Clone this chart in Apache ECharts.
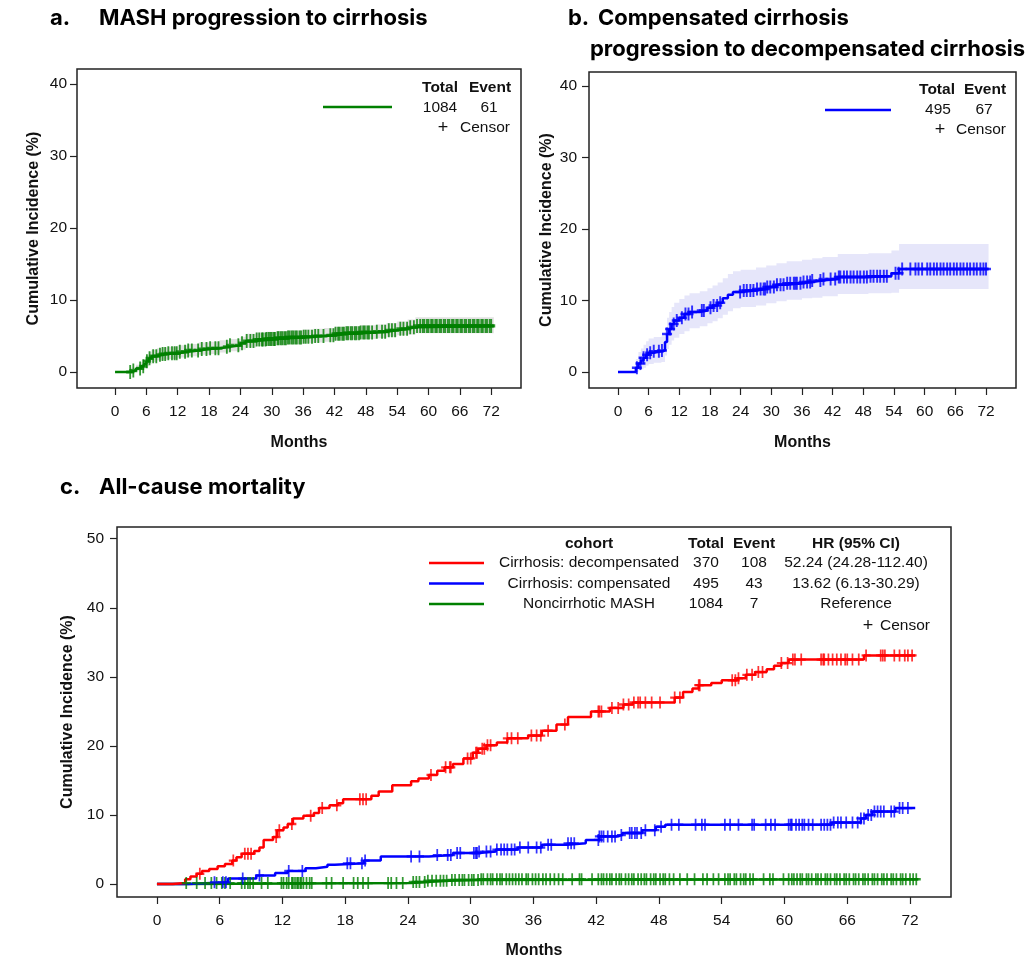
<!DOCTYPE html>
<html>
<head>
<meta charset="utf-8">
<script src="https://cdn.jsdelivr.net/npm/echarts@6/dist/echarts.min.js"></script>
<style>
  html, body { margin: 0; padding: 0; background: #fff; }
  #main { width: 1030px; height: 960px; }
</style>
</head>
<body>
<div id="main"></div>
<script>
// tick labels
var xTicks = [0, 6, 12, 18, 24, 30, 36, 42, 48, 54, 60, 66, 72];
var yTicksAB = [0, 10, 20, 30, 40];
var yTicksC = [0, 10, 20, 30, 40, 50];

// a. MASH -> cirrhosis (step times, cumulative incidence %, CI band)
var aTimes = [0, 3, 4, 5, 5.5, 6, 6.5, 7, 8, 9, 10, 12, 14, 16, 18, 20, 22, 24, 25, 27, 29, 31, 33, 36, 38, 40, 42, 44, 47, 50, 52, 54, 56, 57.5, 72.5];
var aValues = [0, 0.2, 0.5, 0.8, 1.1, 1.5, 1.9, 2.2, 2.4, 2.5, 2.6, 2.8, 3.0, 3.2, 3.3, 3.5, 3.7, 4.0, 4.3, 4.5, 4.6, 4.7, 4.8, 4.9, 5.0, 5.1, 5.3, 5.4, 5.5, 5.6, 5.8, 6.0, 6.2, 6.4, 6.4];
var aLower = [0, 0, 0.1, 0.3, 0.5, 0.8, 1.1, 1.4, 1.6, 1.7, 1.8, 2.0, 2.2, 2.4, 2.5, 2.7, 2.9, 3.1, 3.4, 3.6, 3.7, 3.8, 3.9, 4.0, 4.1, 4.2, 4.4, 4.5, 4.6, 4.7, 4.9, 5.1, 5.2, 5.4, 5.4];
var aUpper = [0, 0.6, 1.0, 1.4, 1.8, 2.3, 2.8, 3.1, 3.3, 3.4, 3.5, 3.7, 3.9, 4.1, 4.2, 4.4, 4.6, 4.9, 5.3, 5.5, 5.6, 5.7, 5.8, 5.9, 6.0, 6.1, 6.3, 6.4, 6.5, 6.6, 6.8, 7.0, 7.3, 7.6, 7.6];
var aCensor = [2.9, 3.5, 4.8, 5.4, 6.1, 6.6, 7.3, 7.9, 8.6, 9.1, 9.6, 10.2, 10.9, 11.4, 11.8, 12.4, 13.4, 14.0, 14.7, 15.9, 16.6, 17.5, 18.2, 19.2, 19.8, 21.4, 22.0, 23.6, 24.3, 25.2, 25.9, 26.5, 27.1, 27.6, 28.1, 28.3, 28.8, 29.0, 29.4, 29.7, 30.0, 30.4, 30.6, 31.1, 31.3, 31.7, 32.0, 32.4, 32.7, 33.1, 33.4, 33.8, 34.1, 34.5, 34.8, 35.3, 35.6, 36.1, 36.5, 37.0, 37.7, 38.3, 38.9, 39.9, 41.2, 41.8, 42.2, 42.7, 43.0, 43.5, 43.8, 44.3, 44.6, 45.1, 45.4, 45.9, 46.2, 46.7, 47.0, 47.5, 47.8, 48.3, 48.6, 49.2, 50.1, 51.1, 51.7, 52.4, 53.0, 53.6, 54.6, 55.2, 55.9, 56.5, 57.2, 57.8, 58.4, 58.9, 59.2, 59.7, 60.0, 60.5, 60.8, 61.3, 61.6, 62.1, 62.4, 62.9, 63.2, 63.7, 64.0, 64.5, 64.8, 65.3, 65.6, 66.1, 66.4, 66.9, 67.2, 67.7, 68.0, 68.5, 68.8, 69.3, 69.6, 70.1, 70.4, 70.9, 71.2, 71.7, 72.0];
var aTotal = '1084', aEvent = '61';

// b. compensated -> decompensated cirrhosis
var bTimes = [0, 3.5, 4, 4.5, 5, 5.5, 6, 7, 8.5, 9.2, 9.6, 10, 10.5, 11, 12, 13, 14, 16, 17.5, 18.5, 19.5, 20.5, 21.5, 22.5, 24, 27, 29, 31, 33, 36, 38, 40, 43, 49, 53.5, 55, 72.5];
var bValues = [0, 0.6, 1.2, 1.6, 2.0, 2.4, 2.7, 2.9, 3.0, 4.2, 5.3, 6.0, 6.7, 7.2, 7.6, 8.1, 8.4, 8.6, 9.0, 9.3, 9.7, 10.3, 10.8, 11.2, 11.4, 11.6, 11.9, 12.2, 12.4, 12.6, 12.8, 13.0, 13.3, 13.4, 13.8, 14.4, 14.4];
var bLower = [0, 0, 0.2, 0.4, 0.6, 0.9, 1.1, 1.3, 1.4, 2.3, 3.2, 3.8, 4.4, 4.8, 5.3, 5.7, 6.1, 6.4, 6.8, 7.1, 7.5, 8.0, 8.5, 8.9, 9.1, 9.3, 9.6, 9.9, 10.1, 10.3, 10.4, 10.6, 10.9, 11.0, 11.1, 11.6, 11.6];
var bUpper = [0, 1.8, 2.8, 3.3, 3.8, 4.3, 4.7, 4.9, 5.0, 6.3, 7.6, 8.4, 9.1, 9.7, 10.2, 10.7, 11.0, 11.3, 11.7, 12.1, 12.5, 13.1, 13.7, 14.1, 14.3, 14.6, 14.9, 15.2, 15.5, 15.7, 15.9, 16.1, 16.5, 16.6, 17.0, 17.9, 17.9];
var bCensor = [3.7, 4.4, 5.0, 5.7, 6.3, 7.0, 8.0, 8.6, 9.6, 10.2, 10.9, 11.5, 12.5, 13.2, 13.8, 14.5, 16.4, 16.8, 18.1, 18.7, 19.4, 20.0, 23.9, 24.6, 25.2, 25.9, 26.5, 27.2, 27.9, 28.5, 28.8, 29.2, 29.8, 30.5, 31.1, 31.8, 32.4, 33.1, 33.7, 34.4, 34.7, 35.0, 35.7, 36.3, 37.0, 37.6, 38.0, 39.6, 40.2, 41.6, 42.5, 43.2, 43.5, 44.2, 44.8, 45.5, 46.1, 46.8, 47.4, 48.1, 48.7, 49.4, 50.0, 50.7, 51.3, 52.0, 52.6, 54.3, 54.9, 55.6, 57.2, 58.2, 58.8, 59.5, 60.5, 61.1, 61.8, 62.4, 63.1, 63.7, 64.4, 65.0, 65.7, 66.3, 67.0, 67.6, 68.3, 68.9, 69.6, 70.2, 70.9, 71.5, 72.0];
var bTotal = '495', bEvent = '67';

// c. all-cause mortality by cohort
var cohorts = ['Cirrhosis: decompensated', 'Cirrhosis: compensated', 'Noncirrhotic MASH'];
var cTotals = ['370', '495', '1084'];
var cEvents = ['108', '43', '7'];
var cHR = ['52.24 (24.28-112.40)', '13.62 (6.13-30.29)', 'Reference'];

var redTimes = [0, 1.5, 2.7, 3.2, 3.8, 4.3, 5, 5.8, 6.5, 7.2, 7.6, 8.1, 9.3, 9.8, 10.2, 11.1, 11.5, 12.1, 12.5, 13.0, 14.0, 15.0, 15.5, 16.5, 17.3, 17.8, 20.5, 21.2, 22.5, 24.3, 25.0, 26.0, 26.8, 27.5, 28.3, 29.3, 30.2, 30.7, 31.5, 32.5, 33.5, 35.5, 36.8, 38.2, 39.3, 41.5, 43.3, 44.6, 45.5, 49.5, 50.3, 51.2, 51.8, 53.0, 54.0, 55.5, 56.3, 57.2, 58.3, 59.0, 59.7, 60.4, 67.6, 72.5];
var redValues = [0, 0.15, 0.7, 1.1, 1.5, 1.9, 2.2, 2.6, 2.9, 3.4, 3.9, 4.4, 4.8, 5.3, 6.4, 6.8, 7.8, 8.2, 8.7, 9.5, 9.9, 10.3, 11.0, 11.4, 11.7, 12.3, 12.8, 13.4, 14.3, 14.9, 15.3, 15.8, 16.4, 16.9, 17.4, 18.2, 19.0, 19.6, 20.1, 20.5, 21.1, 21.5, 22.2, 23.1, 24.2, 25.0, 25.5, 26.0, 26.3, 27.0, 27.8, 28.3, 28.8, 29.1, 29.5, 29.8, 30.3, 30.7, 31.1, 31.6, 32.0, 32.5, 33.1, 33.1];
var redCensor = [4.1, 7.3, 8.4, 8.7, 9.0, 11.4, 11.7, 12.9, 14.7, 15.8, 17.2, 19.4, 19.7, 20.0, 26.2, 27.6, 28.0, 28.1, 29.7, 30.0, 30.5, 30.6, 31.1, 31.3, 31.6, 31.9, 33.5, 33.9, 34.5, 35.8, 36.3, 36.7, 37.4, 39.0, 42.2, 42.3, 42.5, 43.5, 44.1, 44.6, 45.1, 45.6, 46.0, 46.2, 46.7, 47.3, 48.1, 49.5, 50.0, 51.8, 51.9, 55.0, 55.3, 55.6, 56.4, 56.9, 57.5, 57.9, 59.7, 60.3, 60.8, 61.0, 61.6, 63.5, 63.7, 63.8, 64.2, 64.6, 65.0, 65.4, 65.8, 66.0, 66.5, 67.1, 67.8, 69.2, 69.4, 69.6, 70.5, 71.0, 71.5, 71.8, 72.2];

var blueTimes = [0, 3.0, 6.8, 9.5, 11.3, 12.5, 14.2, 15.2, 16.3, 17.0, 19.8, 21.4, 26.0, 28.3, 30.8, 32.4, 34.5, 36.8, 39.2, 41.0, 42.3, 43.9, 44.5, 46.4, 47.7, 48.6, 64.5, 67.3, 67.8, 68.4, 70.6, 72.5];
var blueValues = [0, 0.25, 0.8, 1.25, 1.6, 1.9, 2.3, 2.5, 2.8, 3.0, 3.4, 4.0, 4.2, 4.5, 4.7, 5.0, 5.3, 5.7, 5.9, 6.4, 6.9, 7.1, 7.4, 7.8, 8.3, 8.6, 8.9, 9.5, 10.0, 10.5, 11.0, 11.0];
var blueCensor = [5.5, 6.3, 6.6, 8.2, 9.8, 12.6, 13.9, 18.2, 18.5, 19.6, 19.9, 24.3, 25.1, 26.8, 27.8, 28.1, 28.7, 29.0, 30.3, 30.5, 30.6, 30.8, 31.5, 31.9, 32.5, 32.9, 33.2, 33.5, 33.9, 34.2, 34.7, 35.5, 36.3, 36.7, 37.4, 37.7, 39.3, 39.6, 39.9, 42.2, 42.3, 42.5, 42.7, 43.1, 43.5, 43.8, 44.4, 45.2, 45.4, 45.7, 45.9, 46.3, 46.7, 47.6, 48.2, 49.2, 49.9, 51.5, 52.1, 52.4, 54.3, 54.8, 55.6, 56.9, 57.1, 58.2, 58.7, 59.1, 60.4, 60.6, 60.7, 61.1, 61.4, 61.7, 61.9, 62.3, 62.7, 63.5, 63.8, 64.1, 64.4, 64.7, 65.1, 65.4, 65.9, 66.5, 67.0, 67.3, 67.6, 68.0, 68.3, 68.6, 68.9, 69.2, 69.5, 70.2, 70.5, 71.0, 71.3, 71.8];

var greenTimes = [0, 2.5, 24.3, 25.8, 28.0, 31.0, 72.8];
var greenValues = [0, 0.15, 0.3, 0.5, 0.6, 0.7, 0.7];
var greenCensor = [2.8, 3.8, 4.6, 5.2, 5.7, 6.2, 6.5, 7.0, 8.1, 8.4, 8.7, 8.9, 9.2, 10.0, 10.6, 11.9, 12.1, 12.4, 12.6, 12.9, 13.0, 13.2, 13.4, 13.5, 13.7, 13.8, 14.0, 14.3, 14.6, 14.8, 16.2, 16.7, 17.8, 18.8, 19.2, 19.7, 20.2, 22.1, 22.4, 22.9, 23.5, 24.5, 24.8, 25.1, 25.6, 25.9, 26.3, 26.7, 27.1, 27.4, 27.7, 28.2, 28.5, 28.9, 29.2, 29.4, 29.8, 30.1, 30.3, 30.7, 31.0, 31.2, 31.6, 31.9, 32.1, 32.5, 32.8, 33.0, 33.4, 33.7, 34.0, 34.3, 34.6, 34.9, 35.3, 35.5, 35.9, 36.2, 36.5, 36.9, 37.2, 37.6, 38.0, 38.4, 38.8, 39.7, 40.4, 40.6, 41.6, 42.2, 42.5, 42.7, 43.0, 43.3, 43.5, 43.9, 44.2, 44.4, 44.8, 45.1, 45.4, 45.6, 46.0, 46.3, 46.6, 46.8, 47.2, 47.5, 47.7, 48.1, 48.4, 48.6, 49.0, 49.4, 50.0, 50.7, 51.4, 52.2, 52.6, 53.2, 53.7, 54.3, 54.6, 54.8, 55.2, 55.4, 55.8, 56.1, 56.3, 56.7, 57.0, 58.0, 58.6, 58.9, 59.9, 60.4, 60.7, 60.9, 61.2, 61.5, 61.7, 62.1, 62.3, 62.6, 63.0, 63.2, 63.5, 63.9, 64.1, 64.4, 64.8, 65.0, 65.3, 65.7, 65.9, 66.2, 66.6, 66.8, 67.1, 67.5, 67.7, 68.0, 68.4, 68.6, 68.9, 69.3, 69.5, 69.8, 70.2, 70.4, 70.7, 71.1, 71.3, 71.6, 72.0, 72.3, 72.6];

var RED = '#ff0000', BLUE = '#0000ff', GREEN = '#008000';
var axisFont = '"Liberation Sans", Arial, sans-serif';
var titleFont = 'Inter, "Noto Sans", sans-serif';
var plusPath = 'path://M5,0L5,10M0,5L10,5';

var myChart = echarts.init(document.getElementById('main'), null, {renderer: 'canvas'});

// value of a step curve at time t
function stepAt(times, vals, t) {
    var v = vals[0];
    for (var i = 0; i < times.length; i++) {
        if (times[i] <= t) v = vals[i];
    }
    return v;
}

function pairs(times, vals) {
    return times.map(function (t, i) { return [t, vals[i]]; });
}

function curveSeries(gi, times, vals, color) {
    return {
        type: 'line', xAxisIndex: gi, yAxisIndex: gi, step: 'end',
        data: pairs(times, vals), symbol: 'none', silent: true, z: 3,
        lineStyle: {color: color, width: 2.5}
    };
}

function censorSeries(gi, times, vals, censor, color, size, lw) {
    return {
        type: 'scatter', xAxisIndex: gi, yAxisIndex: gi, silent: true, z: 4,
        symbol: plusPath, symbolSize: size,
        data: censor.map(function (t) { return [t, stepAt(times, vals, t)]; }),
        itemStyle: {color: color, borderColor: color, borderWidth: lw || 2}
    };
}

// confidence band as a stepped polygon, placed through the axes
function bandSeries(gi, times, lower, upper, color) {
    return {
        type: 'custom', xAxisIndex: gi, yAxisIndex: gi, silent: true, z: 1,
        data: [0],
        renderItem: function (params, api) {
            var top = [], bot = [];
            for (var i = 0; i < times.length - 1; i++) {
                top.push(api.coord([times[i], upper[i]]), api.coord([times[i + 1], upper[i]]));
                bot.push(api.coord([times[i], lower[i]]), api.coord([times[i + 1], lower[i]]));
            }
            return {type: 'polygon', shape: {points: top.concat(bot.reverse())}, style: {fill: color}};
        }
    };
}

function xAxisCfg(gi, min, max, gap) {
    return {
        type: 'value', gridIndex: gi, min: min, max: max,
        splitLine: {show: false},
        axisLine: {show: false, onZero: false},
        axisTick: {show: true, length: 7, customValues: xTicks, lineStyle: {color: '#222', width: 1.2}},
        axisLabel: {customValues: xTicks, fontSize: 15.5, color: '#111', fontFamily: axisFont, margin: 16},
        name: 'Months', nameLocation: 'middle', nameGap: gap,
        nameTextStyle: {fontSize: 16, fontWeight: 'bold', color: '#111', fontFamily: axisFont}
    };
}

function yAxisCfg(gi, min, max, ticks, gap, margin) {
    return {
        type: 'value', gridIndex: gi, min: min, max: max,
        splitLine: {show: false},
        axisLine: {show: false, onZero: false},
        axisTick: {show: true, length: 7, customValues: ticks, lineStyle: {color: '#222', width: 1.2}},
        axisLabel: {customValues: ticks, fontSize: 15.5, color: '#111', fontFamily: axisFont, margin: margin},
        name: 'Cumulative Incidence (%)', nameLocation: 'middle', nameGap: gap, nameRotate: 90,
        nameTextStyle: {fontSize: 16, fontWeight: 'bold', color: '#111', fontFamily: axisFont}
    };
}

function seg(x1, x2, y, color) {
    return {type: 'line', silent: true, shape: {x1: x1, y1: y, x2: x2, y2: y}, style: {stroke: color, lineWidth: 2.5}};
}

// graphic texts use absolute x/y
function t(x, y, s, opts) {
    var o = opts || {};
    return {
        type: 'text', silent: true, x: x, y: y,
        style: {
            text: s, fill: o.fill || '#111',
            font: (o.weight || 'normal') + ' ' + (o.size || 15.5) + 'px ' + (o.family || axisFont),
            align: o.align || 'left', verticalAlign: 'middle'
        }
    };
}

var TS = {weight: 'bold', size: 22, family: titleFont, fill: '#000'};
var graphics = [
    // panel titles
    t(50, 18, 'a.', TS),
    t(99, 18, 'MASH progression to cirrhosis', TS),
    t(568, 18, 'b.', TS),
    t(598, 18, 'Compensated cirrhosis', TS),
    t(590, 49, 'progression to decompensated cirrhosis', TS),
    t(60, 487, 'c.', TS),
    t(99, 487, 'All-cause mortality', TS),

    // legend a
    t(440, 88, 'Total', {weight: 'bold', align: 'center'}),
    t(490, 88, 'Event', {weight: 'bold', align: 'center'}),
    seg(323, 392, 107, GREEN),
    t(440, 108, aTotal, {align: 'center'}),
    t(489, 108, aEvent, {align: 'center'}),
    t(443, 128, '+', {align: 'center', size: 18}),
    t(460, 128, 'Censor'),

    // legend b
    t(937, 90, 'Total', {weight: 'bold', align: 'center'}),
    t(985, 90, 'Event', {weight: 'bold', align: 'center'}),
    seg(825, 891, 110, BLUE),
    t(938, 110, bTotal, {align: 'center'}),
    t(984, 110, bEvent, {align: 'center'}),
    t(940, 130, '+', {align: 'center', size: 18}),
    t(956, 130, 'Censor'),

    // legend c
    t(589, 544, 'cohort', {weight: 'bold', align: 'center'}),
    t(706, 544, 'Total', {weight: 'bold', align: 'center'}),
    t(754, 544, 'Event', {weight: 'bold', align: 'center'}),
    t(856, 544, 'HR (95% CI)', {weight: 'bold', align: 'center'}),
    t(868, 626, '+', {align: 'center', size: 18}),
    t(880, 626, 'Censor')
];
var cColors = [RED, BLUE, GREEN];
var rowY = [563, 583.5, 604];
cohorts.forEach(function (name, i) {
    graphics.push(seg(429, 484, rowY[i], cColors[i]));
    graphics.push(t(589, rowY[i], name, {align: 'center'}));
    graphics.push(t(706, rowY[i], cTotals[i], {align: 'center'}));
    graphics.push(t(754, rowY[i], cEvents[i], {align: 'center'}));
    graphics.push(t(856, rowY[i], cHR[i], {align: 'center'}));
});

var gridStyle = {show: true, borderColor: '#222', borderWidth: 1.5, backgroundColor: 'rgba(0,0,0,0)'};

var series = [
    bandSeries(0, aTimes, aLower, aUpper, '#e2e2e2'),
    curveSeries(0, aTimes, aValues, GREEN),
    censorSeries(0, aTimes, aValues, aCensor, GREEN, [8, 14], 2.4),
    bandSeries(1, bTimes, bLower, bUpper, '#e6e6fa'),
    curveSeries(1, bTimes, bValues, BLUE),
    censorSeries(1, bTimes, bValues, bCensor, BLUE, [10, 13], 2.2),
    curveSeries(2, greenTimes, greenValues, GREEN),
    censorSeries(2, greenTimes, greenValues, greenCensor, GREEN, [9, 12], 2),
    curveSeries(2, blueTimes, blueValues, BLUE),
    censorSeries(2, blueTimes, blueValues, blueCensor, BLUE, [9, 12], 2),
    curveSeries(2, redTimes, redValues, RED),
    censorSeries(2, redTimes, redValues, redCensor, RED, [9, 12], 2)
];

var option = {
    animation: false,
    backgroundColor: '#fff',
    grid: [
        Object.assign({left: 77, top: 69, width: 444, height: 319}, gridStyle),
        Object.assign({left: 589, top: 72, width: 427, height: 316}, gridStyle),
        Object.assign({left: 117, top: 527, width: 834, height: 372}, gridStyle)
    ],
    xAxis: [
        xAxisCfg(0, -7.28, 77.7, 47),
        xAxisCfg(1, -5.67, 77.87, 47),
        xAxisCfg(2, -3.82, 75.92, 46)
    ],
    yAxis: [
        yAxisCfg(0, -2.22, 42.08, yTicksAB, 35, 10),
        yAxisCfg(1, -2.24, 41.96, yTicksAB, 34, 12),
        yAxisCfg(2, -1.87, 51.7, yTicksC, 38, 13)
    ],
    graphic: graphics,
    series: series
};
// 使用配置项显示图表
myChart.setOption(option);
</script>
</body>
</html>
